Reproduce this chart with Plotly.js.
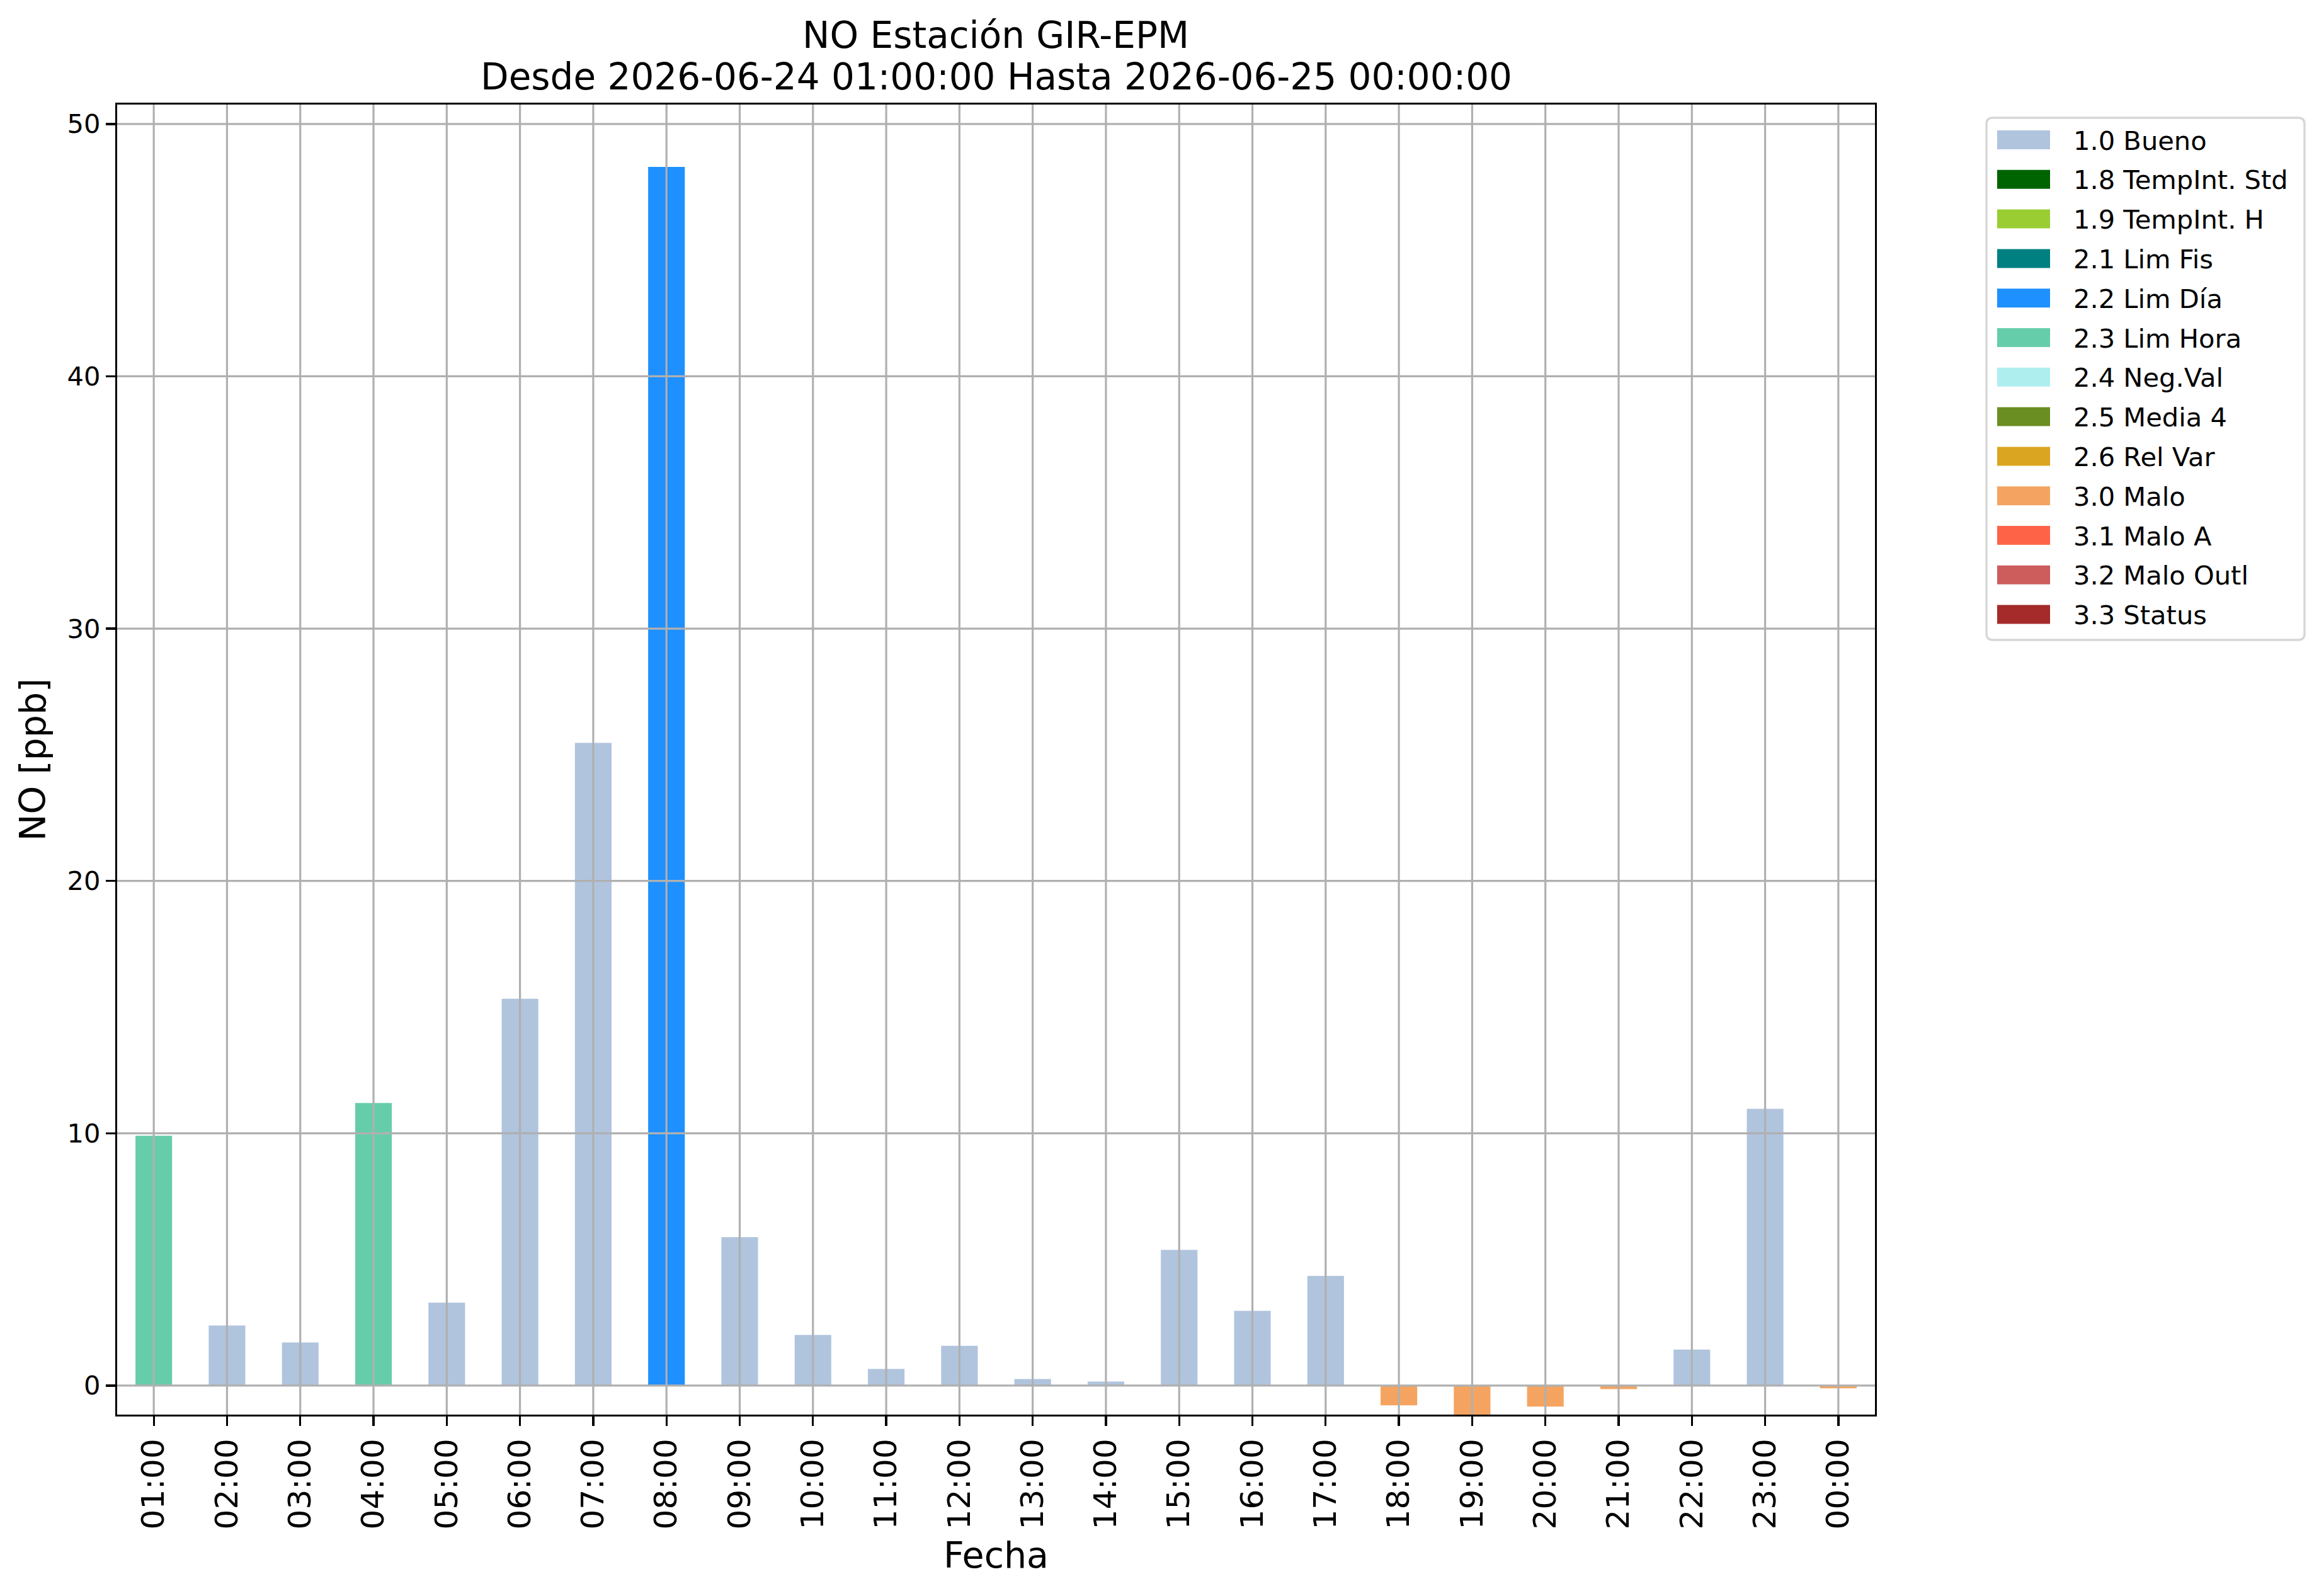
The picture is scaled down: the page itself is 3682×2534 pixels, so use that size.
<!DOCTYPE html>
<html>
<head>
<meta charset="utf-8">
<script src="https://cdn.plot.ly/plotly-3.0.1.min.js"></script>
<style>html,body{margin:0;padding:0;background:#fff;}#chart{width:3682px;height:2534px;}</style>
</head>
<body>
<div id="chart"></div>
<script>
// ---- data ----
const hours = ['01:00','02:00','03:00','04:00','05:00','06:00','07:00','08:00','09:00','10:00','11:00','12:00',
               '13:00','14:00','15:00','16:00','17:00','18:00','19:00','20:00','21:00','22:00','23:00','00:00'];
const values = [9.9, 2.38, 1.71, 11.2, 3.29, 15.33, 25.47, 48.3, 5.88, 2.01, 0.66, 1.58,
                0.26, 0.16, 5.38, 2.96, 4.35, -0.78, -1.2, -0.83, -0.14, 1.43, 10.97, -0.11];
const flags = ['2.3','1.0','1.0','2.3','1.0','1.0','1.0','2.2','1.0','1.0','1.0','1.0',
               '1.0','1.0','1.0','1.0','1.0','3.0','3.0','3.0','3.0','1.0','1.0','3.0'];
const flagCodes = ['1.0','1.8','1.9','2.1','2.2','2.3','2.4','2.5','2.6','3.0','3.1','3.2','3.3'];
const flagNames = ['1.0 Bueno','1.8 TempInt. Std','1.9 TempInt. H','2.1 Lim Fis','2.2 Lim Día','2.3 Lim Hora',
                   '2.4 Neg.Val','2.5 Media 4','2.6 Rel Var','3.0 Malo','3.1 Malo A','3.2 Malo Outl','3.3 Status'];
const flagColors = ['#B0C4DE','#006400','#9ACD32','#008080','#1E90FF','#66CDAA',
                    '#AFEEEE','#6B8E23','#DAA520','#F4A460','#FF6347','#CD5C5C','#A52A2A'];
const yTicks = [0, 10, 20, 30, 40, 50];
const titleLine1 = 'NO Estación GIR-EPM';
const titleLine2 = 'Desde 2026-06-24 01:00:00 Hasta 2026-06-25 00:00:00';

// ---- geometry (pixels) ----
const W = 3682, H = 2534;
const L = 186, R = 2977, T = 166, B = 2246;
const px = x => (x - L) / (R - L);
const py = y => (B - y) / (B - T);
const FONT = 'DejaVu Sans, Liberation Sans, sans-serif';
const GRID = '#b0b0b0';

// ---- traces: one per flag ----
const traces = flagCodes.map((code, i) => ({
  type: 'bar',
  name: flagNames[i],
  x: hours,
  y: values.map((v, j) => flags[j] === code ? v : null),
  width: 0.5,
  marker: {color: flagColors[i], line: {width: 0}},
  showlegend: false,
  hoverinfo: 'x+y+name'
}));

// ---- grid lines drawn above bars (as matplotlib does) ----
const shapes = [];
hours.forEach(h => shapes.push({type: 'line', layer: 'above', xref: 'x', yref: 'paper',
  x0: h, x1: h, y0: 0, y1: 1, line: {color: GRID, width: 3.2}}));
yTicks.forEach(v => shapes.push({type: 'line', layer: 'above', xref: 'paper', yref: 'y',
  x0: 0, x1: 1, y0: v, y1: v, line: {color: GRID, width: 3.2}}));

// ---- legend (custom, matplotlib style) ----
const annotations = [];
const lgL = 3154, lgR = 3659, lgT = 187, lgB = 1016, rad = 10;
const rr = `M${px(lgL+rad)},${py(lgT)} L${px(lgR-rad)},${py(lgT)} Q${px(lgR)},${py(lgT)} ${px(lgR)},${py(lgT+rad)} ` +
           `L${px(lgR)},${py(lgB-rad)} Q${px(lgR)},${py(lgB)} ${px(lgR-rad)},${py(lgB)} ` +
           `L${px(lgL+rad)},${py(lgB)} Q${px(lgL)},${py(lgB)} ${px(lgL)},${py(lgB-rad)} ` +
           `L${px(lgL)},${py(lgT+rad)} Q${px(lgL)},${py(lgT)} ${px(lgL+rad)},${py(lgT)} Z`;
shapes.push({type: 'path', xref: 'paper', yref: 'paper', path: rr, layer: 'above',
  fillcolor: 'rgba(255,255,255,0.8)', line: {color: '#d6d6d6', width: 3.3}});
flagNames.forEach((name, i) => {
  const cy = 222 + 62.8 * i;
  shapes.push({type: 'rect', xref: 'paper', yref: 'paper', layer: 'above',
    x0: px(3171), x1: px(3255), y0: py(cy - 15), y1: py(cy + 15),
    fillcolor: flagColors[i], line: {width: 0}});
  annotations.push({xref: 'paper', yref: 'paper', x: px(3290), y: py(cy + 1),
    xanchor: 'left', yanchor: 'middle', showarrow: false, text: name,
    font: {family: FONT, size: 41.6, color: '#000'}});
});

// second title line
annotations.push({xref: 'paper', yref: 'paper', x: 0.5, y: py(122), xanchor: 'center', yanchor: 'middle',
  showarrow: false, text: titleLine2, font: {family: FONT, size: 58, color: '#000'}});

const layout = {
  width: W, height: H,
  margin: {l: L, r: W - R, t: T, b: H - B, pad: 0},
  paper_bgcolor: '#fff', plot_bgcolor: '#fff',
  font: {family: FONT, color: '#000'},
  barmode: 'overlay',
  title: {text: titleLine1, x: px(1581), xanchor: 'center', xref: 'paper',
          y: 1 - 56/H, yref: 'container', yanchor: 'middle',
          font: {family: FONT, size: 58, color: '#000'}},
  xaxis: {
    type: 'category', range: [-0.5, 23.5], tickmode: 'array', tickvals: hours, ticktext: hours,
    tickangle: -90, tickfont: {size: 50, family: FONT, color: '#000'},
    ticks: 'outside', ticklen: 15, tickwidth: 3.3, tickcolor: '#000',
    showline: true, linecolor: '#000', linewidth: 3.3, mirror: true,
    showgrid: false, zeroline: false, fixedrange: true,
    title: {text: 'Fecha', font: {size: 57, family: FONT, color: '#000'}, standoff: 22}
  },
  yaxis: {
    range: [-1.15, 50.77], tickmode: 'array', tickvals: yTicks, ticktext: yTicks.map(String),
    tickfont: {size: 41.6, family: FONT, color: '#000'},
    ticks: 'outside', ticklen: 15, tickwidth: 3.3, tickcolor: '#000',
    showline: true, linecolor: '#000', linewidth: 3.3, mirror: true,
    showgrid: false, zeroline: false, fixedrange: true,
    title: {text: 'NO [ppb]', font: {size: 57, family: FONT, color: '#000'}, standoff: 16}
  },
  shapes: shapes,
  annotations: annotations
};

Plotly.newPlot('chart', traces, layout, {displayModeBar: false, staticPlot: true});
</script>
</body>
</html>
